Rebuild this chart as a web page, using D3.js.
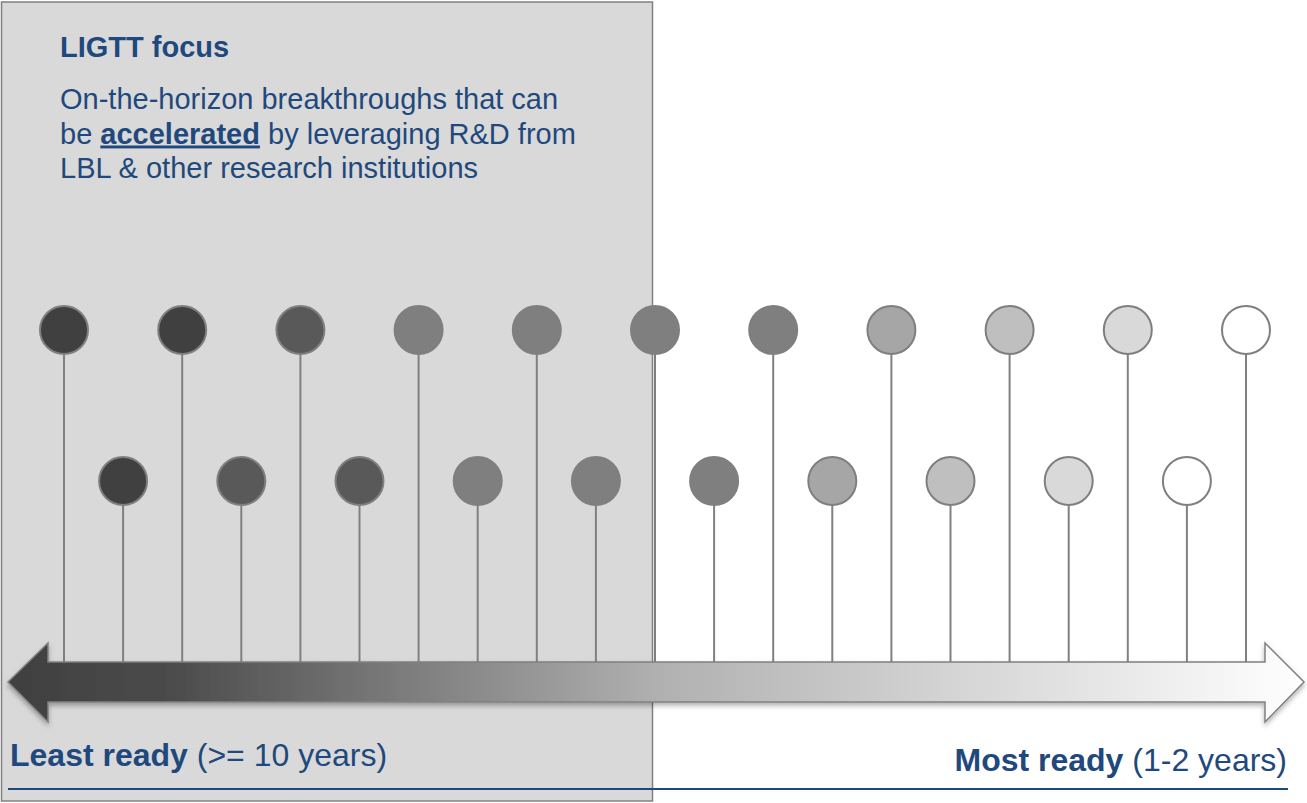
<!DOCTYPE html>
<html lang="en">
<head>
<meta charset="UTF-8">
<title>LIGTT focus</title>
<script src="https://cdn.jsdelivr.net/npm/d3@7"></script>
<style>
    body { margin: 0; background: #fff; font-family: "Liberation Sans", Arial, sans-serif; }
    svg { display: block; }
</style>
</head>
<body>
<div id="chart"></div>
<script>
// stages, ordered from least ready to most ready
const stageIndex = d3.range(21);
const stageRow = ["top", "bottom", "top", "bottom", "top", "bottom", "top", "bottom", "top", "bottom", "top",
                  "bottom", "top", "bottom", "top", "bottom", "top", "bottom", "top", "bottom", "top"];
const stageFill = ["#404040", "#404040", "#404040", "#595959", "#595959", "#595959", "#7f7f7f",
                   "#7f7f7f", "#7f7f7f", "#7f7f7f", "#7f7f7f", "#7f7f7f", "#7f7f7f", "#a6a6a6",
                   "#a6a6a6", "#bfbfbf", "#bfbfbf", "#d9d9d9", "#d9d9d9", "#ffffff", "#ffffff"];
const focusLines = ["On-the-horizon breakthroughs that can", "be |accelerated| by leveraging R&D from", "LBL & other research institutions"];

const W = 1307, H = 803;
const blue = "#1f497d";
const svg = d3.select("#chart").append("svg").attr("width", W).attr("height", H);

const defs = svg.append("defs");
const grad = defs.append("linearGradient").attr("id", "arrowGrad").attr("x1", "0%").attr("x2", "100%");
grad.append("stop").attr("offset", "0%").attr("stop-color", "#404040");
grad.append("stop").attr("offset", "12%").attr("stop-color", "#4a4a4a");
grad.append("stop").attr("offset", "50%").attr("stop-color", "#b0b0b0");
grad.append("stop").attr("offset", "100%").attr("stop-color", "#ffffff");
const shadow = defs.append("filter").attr("id", "shadow").attr("x", "-5%").attr("y", "-30%").attr("width", "110%").attr("height", "180%");
shadow.append("feDropShadow").attr("dx", 0).attr("dy", 3).attr("stdDeviation", 2.5)
    .attr("flood-color", "#000").attr("flood-opacity", 0.3);

const x = d3.scaleLinear().domain([0, 20]).range([64, 1246]);
const y = d3.scalePoint().domain(["top", "bottom"]).range([330, 481]);
const r = 24;
const axisY = 662, axisBottom = 702, headH = 19;

// focus box
svg.append("rect").attr("x", 1.5).attr("y", 2).attr("width", 651).attr("height", 799)
    .attr("fill", "#d9d9d9").attr("stroke", "#808080").attr("stroke-width", 1.5);

// stems
svg.append("g").selectAll("line").data(stageIndex).join("line")
    .attr("x1", d => x(d)).attr("x2", d => x(d))
    .attr("y1", d => y(stageRow[d]) + r).attr("y2", axisY)
    .attr("stroke", "#808080").attr("stroke-width", 2);

// circles
svg.append("g").selectAll("circle").data(stageIndex).join("circle")
    .attr("cx", d => x(d)).attr("cy", d => y(stageRow[d])).attr("r", r)
    .attr("fill", d => stageFill[d])
    .attr("stroke", "#7f7f7f").attr("stroke-width", 2);

// readiness arrow
const left = x(0) - 56, right = x(20) + 58;
const baseL = left + 40, baseR = right - 39;
const mid = (axisY + axisBottom) / 2;
const arrow = d3.path();
arrow.moveTo(left, mid);
arrow.lineTo(baseL, axisY - headH);
arrow.lineTo(baseL, axisY);
arrow.lineTo(baseR, axisY);
arrow.lineTo(baseR, axisY - headH);
arrow.lineTo(right, mid);
arrow.lineTo(baseR, axisBottom + headH + 1);
arrow.lineTo(baseR, axisBottom);
arrow.lineTo(baseL, axisBottom);
arrow.lineTo(baseL, axisBottom + headH + 1);
arrow.closePath();
svg.append("path").attr("d", arrow.toString())
    .attr("fill", "url(#arrowGrad)").attr("stroke", "#808080").attr("stroke-width", 1.5)
    .attr("filter", "url(#shadow)");

// focus text
svg.append("text").attr("x", 60).attr("y", 57).attr("fill", blue)
    .attr("font-size", 29).attr("font-weight", "bold").text("LIGTT focus");

const body = svg.append("text").attr("fill", blue).attr("font-size", 29);
focusLines.forEach((line, i) => {
    const t = body.append("tspan").attr("x", 60).attr("y", 109 + i * 34.5);
    line.split("|").forEach((part, j) => {
        const s = t.append("tspan").text(part);
        if (j === 1) s.attr("font-weight", "bold").style("text-decoration", "underline");
    });
});

// bottom labels
const least = svg.append("text").attr("x", 10).attr("y", 766).attr("fill", blue).attr("font-size", 32);
least.append("tspan").attr("font-weight", "bold").text("Least ready");
least.append("tspan").text(" (>= 10 years)");

const most = svg.append("text").attr("x", 1287).attr("y", 771).attr("fill", blue)
    .attr("font-size", 32).attr("text-anchor", "end");
most.append("tspan").attr("font-weight", "bold").text("Most ready");
most.append("tspan").text("  (1-2 years)");

svg.append("line").attr("x1", 8).attr("x2", 1288).attr("y1", 789).attr("y2", 789)
    .attr("stroke", blue).attr("stroke-width", 2);
</script>
</body>
</html>
